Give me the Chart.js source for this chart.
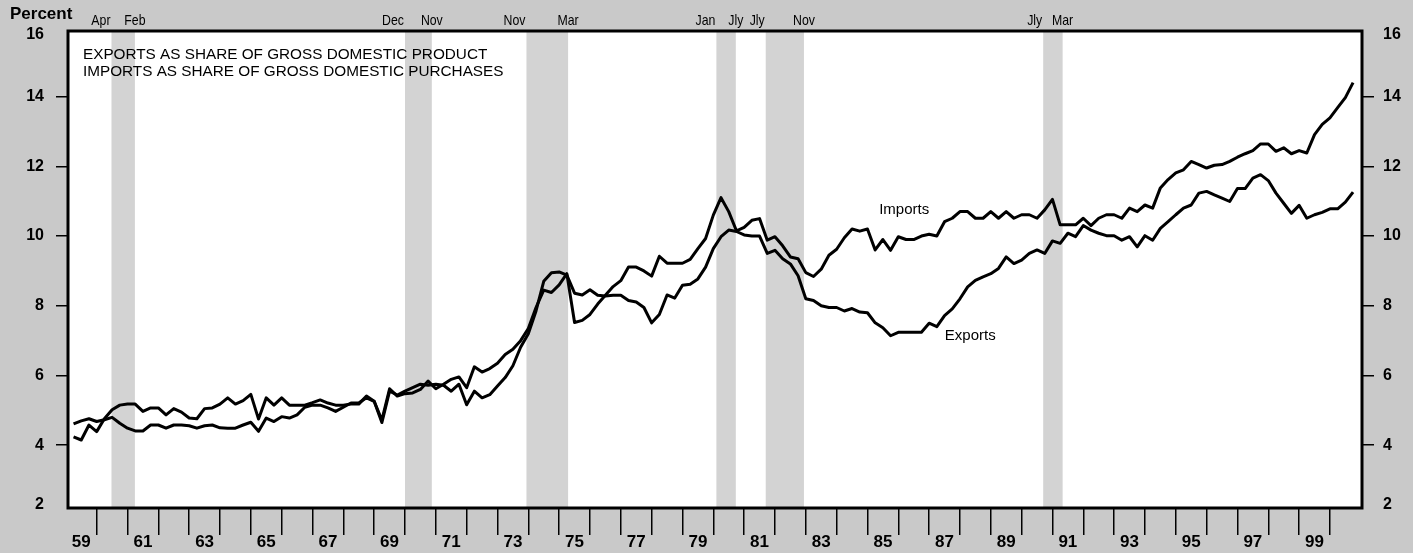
<!DOCTYPE html>
<html><head><meta charset="utf-8">
<script src="https://cdn.jsdelivr.net/npm/chart.js@4/dist/chart.umd.min.js"></script>
<style>html,body{margin:0;padding:0;background:#c8c8c8;overflow:hidden}canvas{display:block}</style>
</head><body>
<canvas id="c" width="1413" height="553"></canvas>
<script>
// Quarterly data, first quarter = 1959 Q1 (plotted at quarter end)
const startYear = 1959;

const exportsShare = [
  4.24, 4.15, 4.58, 4.39,   // 1959
  4.76, 5.02, 5.15, 5.18,   // 1960
  5.18, 4.97, 5.07, 5.07,   // 1961
  4.87, 5.05, 4.95, 4.78,   // 1962
  4.76, 5.05, 5.07, 5.18,   // 1963
  5.36, 5.18, 5.28, 5.46,   // 1964
  4.75, 5.36, 5.15, 5.36,   // 1965
  5.15, 5.15, 5.15, 5.22,   // 1966
  5.30, 5.21, 5.15, 5.15,   // 1967
  5.18, 5.18, 5.41, 5.26,   // 1968
  4.65, 5.55, 5.44, 5.55,   // 1969
  5.65, 5.75, 5.72, 5.75,   // 1970
  5.72, 5.55, 5.75, 5.16,   // 1971
  5.55, 5.36, 5.45, 5.70,   // 1972
  5.94, 6.28, 6.81, 7.20,   // 1973
  7.85, 8.70, 8.95, 8.97,   // 1974
  8.88, 8.36, 8.31, 8.46,   // 1975
  8.30, 8.28, 8.30, 8.30,   // 1976
  8.15, 8.11, 7.95, 7.51,   // 1977
  7.75, 8.31, 8.22, 8.59,   // 1978
  8.62, 8.77, 9.11, 9.64,   // 1979
  9.98, 10.17, 10.13, 10.03,// 1980
  10.00, 10.00, 9.50, 9.59, // 1981
  9.35, 9.20, 8.86, 8.20,   // 1982
  8.15, 8.00, 7.95, 7.95,   // 1983
  7.85, 7.92, 7.82, 7.80,   // 1984
  7.51, 7.37, 7.14, 7.24,   // 1985
  7.24, 7.24, 7.24, 7.50,   // 1986
  7.40, 7.72, 7.91, 8.20,   // 1987
  8.54, 8.73, 8.83, 8.92,   // 1988
  9.07, 9.40, 9.21, 9.31,   // 1989
  9.50, 9.60, 9.50, 9.86,   // 1990
  9.79, 10.08, 9.98, 10.30, // 1991
  10.17, 10.08, 10.01, 10.01, // 1992
  9.88, 9.98, 9.69, 10.01,  // 1993
  9.88, 10.22, 10.41, 10.61,// 1994
  10.80, 10.89, 11.23, 11.28, // 1995
  11.18, 11.09, 10.99, 11.36, // 1996
  11.36, 11.66, 11.76, 11.59, // 1997
  11.23, 10.94, 10.65, 10.88, // 1998
  10.51, 10.61, 10.68, 10.78, // 1999
  10.78, 10.97, 11.26         // 2000
];

const importsShare = [
  4.61, 4.70, 4.76, 4.68,   // 1959
  4.73, 4.80, 4.63, 4.49,   // 1960
  4.41, 4.41, 4.58, 4.58,   // 1961
  4.49, 4.58, 4.58, 4.56,   // 1962
  4.49, 4.56, 4.58, 4.50,   // 1963
  4.49, 4.49, 4.58, 4.66,   // 1964
  4.40, 4.78, 4.68, 4.82,   // 1965
  4.78, 4.87, 5.09, 5.15,   // 1966
  5.15, 5.07, 4.97, 5.09,   // 1967
  5.21, 5.21, 5.36, 5.26,   // 1968
  4.72, 5.62, 5.41, 5.48,   // 1969
  5.50, 5.60, 5.84, 5.62,   // 1970
  5.75, 5.89, 5.96, 5.65,   // 1971
  6.25, 6.10, 6.20, 6.35,   // 1972
  6.60, 6.75, 7.00, 7.35,   // 1973
  7.95, 8.45, 8.38, 8.60,   // 1974
  8.92, 7.52, 7.58, 7.75,   // 1975
  8.05, 8.30, 8.55, 8.72,   // 1976
  9.11, 9.11, 9.00, 8.85,   // 1977
  9.42, 9.22, 9.22, 9.22,   // 1978
  9.33, 9.64, 9.93, 10.60,  // 1979
  11.10, 10.70, 10.15, 10.25, // 1980
  10.45, 10.50, 9.88, 9.98, // 1981
  9.72, 9.40, 9.35, 8.95,   // 1982
  8.84, 9.05, 9.45, 9.62,   // 1983
  9.95, 10.20, 10.14, 10.20,// 1984
  9.60, 9.90, 9.59, 9.98,   // 1985
  9.90, 9.90, 10.00, 10.05, // 1986
  10.00, 10.41, 10.51, 10.70, // 1987
  10.70, 10.51, 10.51, 10.70, // 1988
  10.51, 10.70, 10.51, 10.61, // 1989
  10.61, 10.51, 10.75, 11.05, // 1990
  10.32, 10.32, 10.32, 10.51, // 1991
  10.30, 10.51, 10.61, 10.61, // 1992
  10.51, 10.80, 10.70, 10.89, // 1993
  10.80, 11.38, 11.62, 11.81, // 1994
  11.90, 12.14, 12.05, 11.95, // 1995
  12.03, 12.05, 12.14, 12.26, // 1996
  12.36, 12.45, 12.64, 12.64, // 1997
  12.43, 12.53, 12.36, 12.45, // 1998
  12.38, 12.91, 13.20, 13.39, // 1999
  13.68, 13.97, 14.40         // 2000
];

const xTickLabels = ['59','61','63','65','67','69','71','73','75','77','79','81','83','85','87','89','91','93','95','97','99'];
const yTickValues = [2, 4, 6, 8, 10, 12, 14, 16];
const yTickLabels = ['2', '4', '6', '8', '10', '12', '14', '16'];

// Recessions (shaded), as year fractions, with month labels
const recessionStart = [1960.48, 1970.00, 1973.94, 1980.10, 1981.70, 1990.70];
const recessionEnd   = [1961.24, 1970.87, 1975.29, 1980.73, 1982.94, 1991.33];
const recessionPeakLabels   = ['Apr', 'Dec', 'Nov', 'Jan', 'Jly', 'Jly'];
const recessionTroughLabels = ['Feb', 'Nov', 'Mar', 'Jly', 'Nov', 'Mar'];

const titleLines = ['EXPORTS AS SHARE OF GROSS DOMESTIC PRODUCT', 'IMPORTS AS SHARE OF GROSS DOMESTIC PURCHASES'];
const unitLabel = 'Percent';
const seriesNames = ['Exports', 'Imports'];

// axis extents
const xMin = 1959.07, xMax = 2001.04;
const yMin = 2.2, yMax = 15.88;

const quarterEnd = exportsShare.map((_, i) => startYear + (i + 1) / 4);

const fontSans = '"Liberation Sans", Arial, Helvetica, sans-serif';

const labelAnchors = [
  { text: seriesNames[1], x: 1985.38, y: 10.75 },
  { text: seriesNames[0], x: 1987.51, y: 7.15 }
];

function narrowText(ctx, text, x, y, align, squeeze) {
  const w = ctx.measureText(text).width * squeeze;
  let left = x;
  if (align === 'right') left = x - w;
  else if (align === 'center') left = x - w / 2;
  ctx.save();
  ctx.translate(left, y);
  ctx.scale(squeeze, 1);
  ctx.textAlign = 'left';
  ctx.fillText(text, 0, 0);
  ctx.restore();
}

const decor = {
  id: 'decor',
  beforeDraw(chart) {
    const { ctx, chartArea: a, scales: { x } } = chart;
    ctx.save();
    ctx.fillStyle = '#c9c9c9';
    ctx.fillRect(0, 0, chart.width, chart.height);
    ctx.fillStyle = '#ffffff';
    ctx.fillRect(a.left, a.top, a.right - a.left, a.bottom - a.top);
    ctx.fillStyle = '#d3d3d3';
    recessionStart.forEach((s, i) => {
      const x0 = x.getPixelForValue(s), x1 = x.getPixelForValue(recessionEnd[i]);
      ctx.fillRect(x0, a.top, x1 - x0, a.bottom - a.top);
    });
    ctx.fillStyle = '#000';
    ctx.font = '15px ' + fontSans;
    ctx.textBaseline = 'middle';
    recessionStart.forEach((s, i) => {
      narrowText(ctx, recessionPeakLabels[i], x.getPixelForValue(s) - 1, 21, 'right', 0.82);
      narrowText(ctx, recessionTroughLabels[i], x.getPixelForValue(recessionEnd[i]), 21, 'center', 0.82);
    });
    ctx.textAlign = 'left';
    ctx.font = 'bold 17px ' + fontSans;
    ctx.fillText(unitLabel, 10, 14.5);
    ctx.restore();
  },
  afterDatasetsDraw(chart) {
    const { ctx, chartArea: a, scales: { x, y } } = chart;
    ctx.save();
    ctx.strokeStyle = '#000';
    ctx.lineWidth = 3;
    ctx.strokeRect(a.left, a.top, a.right - a.left, a.bottom - a.top);
    ctx.fillStyle = '#000';
    ctx.textBaseline = 'middle';
    ctx.textAlign = 'left';
    ctx.font = '15.3px ' + fontSans;
    ctx.fillText(titleLines[0], a.left + 15, 55);
    ctx.fillText(titleLines[1], a.left + 15, 72);
    ctx.font = '15px ' + fontSans;
    labelAnchors.forEach(l => ctx.fillText(l.text, x.getPixelForValue(l.x), y.getPixelForValue(l.y)));
    ctx.restore();
  }
};

const yAxisCommon = (pos, width, pad) => ({
  type: 'linear', position: pos, min: yMin, max: yMax,
  afterFit: s => { s.width = width; },
  afterBuildTicks: s => {
    s.ticks = yTickValues.map(v => ({ value: Math.min(Math.max(v, yMin + 0.1), yMax - 0.1) }));
  },
  ticks: {
    padding: pad, color: '#000', autoSkip: false,
    font: { family: fontSans, size: 16, weight: 'bold' },
    callback: (v, i) => yTickLabels[i]
  },
  grid: {
    drawOnChartArea: false, drawTicks: true, tickLength: 12, lineWidth: 1.5,
    color: c => (c.index === 0 || c.index === yTickValues.length - 1) ? 'rgba(0,0,0,0)' : '#000'
  },
  border: { display: false }
});

new Chart(document.getElementById('c'), {
  type: 'line',
  data: {
    datasets: [
      { label: seriesNames[0], data: quarterEnd.map((q, i) => ({ x: q, y: exportsShare[i] })),
        borderColor: '#000', borderWidth: 3, pointRadius: 0, tension: 0, borderJoinStyle: 'round', fill: false, yAxisID: 'y' },
      { label: seriesNames[1], data: quarterEnd.map((q, i) => ({ x: q, y: importsShare[i] })),
        borderColor: '#000', borderWidth: 3, pointRadius: 0, tension: 0, borderJoinStyle: 'round', fill: false, yAxisID: 'y' }
    ]
  },
  options: {
    responsive: false, animation: false, devicePixelRatio: 1,
    layout: { padding: { top: 31, left: 0, right: 0, bottom: 0 } },
    plugins: { legend: { display: false }, tooltip: { enabled: false } },
    scales: {
      x: {
        type: 'linear', position: 'bottom', min: xMin, max: xMax,
        afterFit: s => { s.height = 45; },
        afterBuildTicks: s => {
          const t = [];
          for (let yr = 1960; yr <= 2000; yr++) t.push({ value: yr });
          xTickLabels.forEach(l => t.push({ value: 1900 + Number(l) + 0.5 }));
          t.sort((a, b) => a.value - b.value);
          s.ticks = t;
        },
        ticks: {
          autoSkip: false, maxRotation: 0, minRotation: 0, padding: -3, color: '#000',
          font: { family: fontSans, size: 17, weight: 'bold' },
          callback: v => {
            if (Number.isInteger(v)) return '';
            const l = xTickLabels.find(s => 1900 + Number(s) === Math.floor(v));
            return l || '';
          }
        },
        grid: {
          drawOnChartArea: false, drawTicks: true, tickLength: 27, lineWidth: 1.5,
          color: c => (c.tick && Number.isInteger(c.tick.value)) ? '#000' : 'rgba(0,0,0,0)'
        },
        border: { display: false }
      },
      y: yAxisCommon('left', 68, 12),
      y2: yAxisCommon('right', 51, 9)
    }
  },
  plugins: [decor]
});
</script>
</body></html>
